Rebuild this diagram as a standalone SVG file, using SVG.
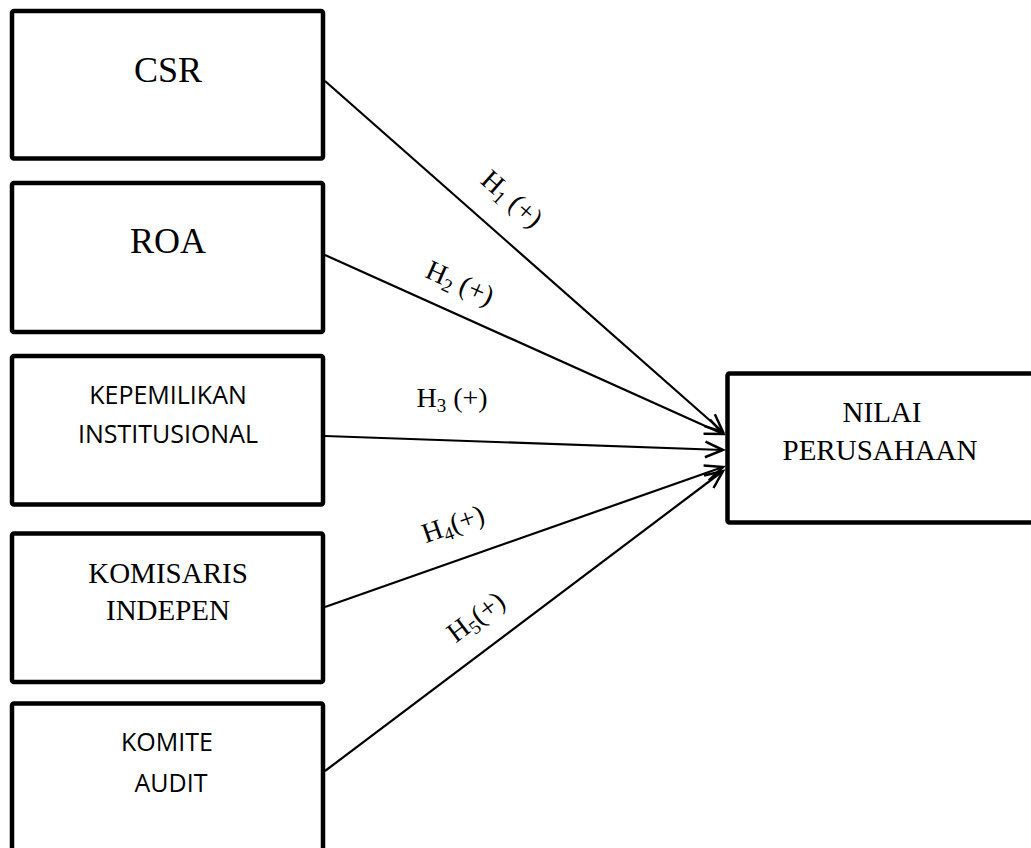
<svg xmlns="http://www.w3.org/2000/svg" width="1031" height="848" viewBox="0 0 1031 848">
<style>
.box{fill:#fff;stroke:#000;stroke-width:4.5;}
.tr{font-family:"Liberation Serif","Times New Roman",serif;fill:#000;text-anchor:middle;}
.ts{font-family:"Open Sans","Noto Sans",sans-serif;fill:#000;text-anchor:middle;}
.big{font-size:36px;}
.mid{font-size:29px;}
.sans{font-size:25px;}
.lbl{font-family:"Liberation Serif","Times New Roman",serif;font-size:28px;fill:#000;text-anchor:middle;}
.sub{font-size:19px;}
.conn{stroke:#000;stroke-width:2.2;fill:none;marker-end:url(#ah);}
</style>
<defs>
<marker id="ah" markerUnits="userSpaceOnUse" markerWidth="22" markerHeight="22" viewBox="-19 -10 21 20" refX="0" refY="0" orient="auto" overflow="visible">
<path d="M-17,-7.5 L0,0 L-17,7.5" fill="none" stroke="#000" stroke-width="2.4" stroke-linejoin="miter"/>
</marker>
</defs>
<rect width="1031" height="848" fill="#fff"/>
<g id="connectors">
<line class="conn" x1="325" y1="81" x2="723" y2="432"/>
<line class="conn" x1="325" y1="255" x2="723" y2="434"/>
<line class="conn" x1="325" y1="436" x2="723" y2="450"/>
<line class="conn" x1="325" y1="607" x2="723" y2="467"/>
<line class="conn" x1="325" y1="771" x2="723" y2="471"/>
<g id="labels">
<text class="lbl" transform="translate(512,199) rotate(41.4)" y="9">H<tspan class="sub" dy="5">1</tspan><tspan dy="-5"> (+)</tspan></text>
<text class="lbl" transform="translate(460,283) rotate(24.1)" y="9">H<tspan class="sub" dy="5">2</tspan><tspan dy="-5"> (+)</tspan></text>
<text class="lbl" x="452" y="407">H<tspan class="sub" dy="5">3</tspan><tspan dy="-5"> (+)</tspan></text>
<text class="lbl" transform="translate(453,524) rotate(-19.4)" y="9">H<tspan class="sub" dy="5">4</tspan><tspan dy="-5">(+)</tspan></text>
<text class="lbl" transform="translate(476,617) rotate(-37)" y="9">H<tspan class="sub" dy="5">5</tspan><tspan dy="-5">(+)</tspan></text>
</g>
</g>
<g id="csr">
<rect class="box" x="12" y="11" width="311" height="147.5" rx="2"/>
<text class="tr big" x="168" y="82">CSR</text>
</g>
<g id="roa">
<rect class="box" x="12" y="183" width="311" height="149" rx="2"/>
<text class="tr big" x="168" y="253">ROA</text>
</g>
<g id="kepemilikan">
<rect class="box" x="12" y="356" width="311" height="148.5" rx="2"/>
<text class="ts sans" x="168" y="404">KEPEMILIKAN</text>
<text class="ts sans" x="168" y="443">INSTITUSIONAL</text>
</g>
<g id="komisaris">
<rect class="box" x="12" y="533.5" width="311" height="148.5" rx="2"/>
<text class="tr mid" x="168" y="583">KOMISARIS</text>
<text class="tr mid" x="168" y="620">INDEPEN</text>
</g>
<g id="komite">
<rect class="box" x="12" y="703.5" width="311" height="150" rx="2"/>
<text class="ts sans" x="167" y="751">KOMITE</text>
<text class="ts sans" x="171" y="792">AUDIT</text>
</g>
<g id="nilai">
<rect class="box" x="727.5" y="373.5" width="320" height="149" rx="2"/>
<text class="tr mid" x="882" y="422">NILAI</text>
<text class="tr mid" x="880" y="460">PERUSAHAAN</text>
</g>
</svg>
